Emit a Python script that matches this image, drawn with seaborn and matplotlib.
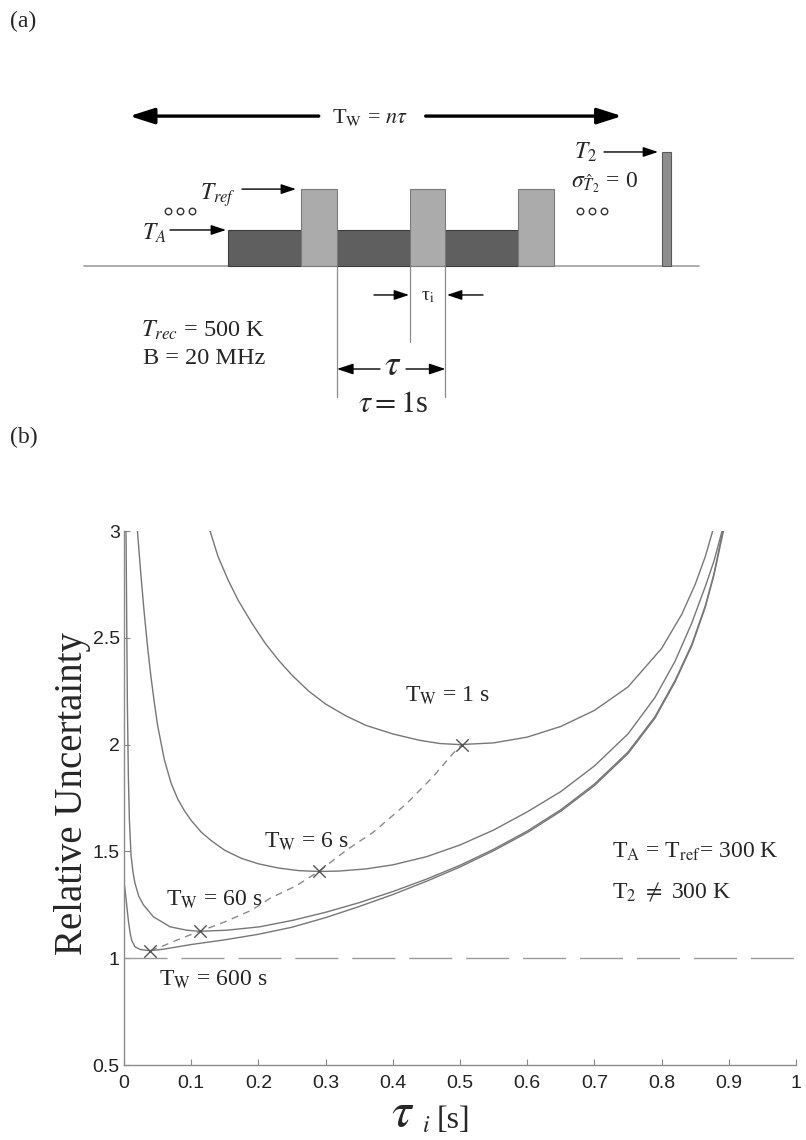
import numpy as np
import pandas as pd
import matplotlib
matplotlib.use("Agg")
import matplotlib.pyplot as plt
import seaborn as sns

# (b) curves, values
tw1_x = [0.128, 0.14, 0.155, 0.17, 0.19, 0.21, 0.23, 0.25, 0.275, 0.3, 0.33, 0.36, 0.4, 0.44,
         0.47, 0.5, 0.55, 0.6, 0.65, 0.7, 0.75, 0.8, 0.83, 0.85, 0.865, 0.876]
tw1_y = [3.0, 2.88, 2.77, 2.675, 2.57, 2.475, 2.395, 2.325, 2.25, 2.19, 2.135, 2.09, 2.05, 2.02,
         2.005, 2.0, 2.008, 2.035, 2.085, 2.16, 2.27, 2.45, 2.61, 2.75, 2.88, 3.0]

tw6_x = [0.02, 0.025, 0.03, 0.035, 0.04, 0.045, 0.05, 0.06, 0.07, 0.08, 0.09, 0.1, 0.115, 0.13,
         0.15, 0.175, 0.2, 0.23, 0.26, 0.29, 0.32, 0.36, 0.4, 0.45, 0.5, 0.55, 0.6, 0.65, 0.7,
         0.75, 0.79, 0.82, 0.845, 0.865, 0.878, 0.89]
tw6_y = [3.0, 2.8, 2.62, 2.46, 2.32, 2.2, 2.09, 1.93, 1.82, 1.745, 1.69, 1.645, 1.59, 1.55,
         1.505, 1.467, 1.442, 1.422, 1.41, 1.406, 1.408, 1.418, 1.437, 1.475, 1.53, 1.6, 1.685,
         1.78, 1.9, 2.05, 2.22, 2.39, 2.57, 2.74, 2.86, 3.0]

tw60_x = [0.003, 0.004, 0.005, 0.0065, 0.008, 0.0105, 0.0135, 0.0164, 0.022, 0.0288, 0.0437,
          0.0685, 0.0933, 0.113, 0.153, 0.202, 0.252, 0.3, 0.35, 0.4, 0.45, 0.5, 0.55, 0.6,
          0.65, 0.7, 0.75, 0.79, 0.82, 0.845, 0.865, 0.878, 0.891]
tw60_y = [3.0, 2.6, 2.2, 1.85, 1.65, 1.48, 1.4, 1.35, 1.29, 1.25, 1.194,
          1.147, 1.131, 1.126, 1.131, 1.147, 1.178, 1.215, 1.26, 1.312, 1.37, 1.435, 1.51, 1.595,
          1.695, 1.815, 1.965, 2.13, 2.3, 2.47, 2.65, 2.8, 3.0]

tw600_x = [0.0, 0.003, 0.0064, 0.009, 0.0114, 0.0164, 0.024, 0.0387, 0.0585, 0.1, 0.15, 0.2,
           0.25, 0.3, 0.35, 0.4, 0.45, 0.5, 0.55, 0.6, 0.65, 0.7, 0.75, 0.79, 0.82, 0.845,
           0.865, 0.878, 0.892]
tw600_y = [1.36, 1.28, 1.178, 1.12, 1.084, 1.053, 1.041, 1.035, 1.042, 1.064, 1.086, 1.112,
           1.145, 1.19, 1.242, 1.298, 1.36, 1.427, 1.503, 1.588, 1.688, 1.808, 1.958, 2.123,
           2.293, 2.463, 2.643, 2.795, 3.0]

# optimum points and the dashed path through them
min_x = [0.039, 0.113, 0.29, 0.503]
min_y = [1.035, 1.126, 1.407, 2.0]
path_x = [0.039, 0.06, 0.078, 0.095, 0.113, 0.15, 0.19, 0.217, 0.257, 0.29, 0.331, 0.371,
          0.421, 0.46, 0.49, 0.503]
path_y = [1.035, 1.06, 1.084, 1.105, 1.126, 1.17, 1.225, 1.28, 1.34, 1.407, 1.506, 1.59,
          1.725, 1.85, 1.96, 2.0]

xticks = [0, 0.1, 0.2, 0.3, 0.4, 0.5, 0.6, 0.7, 0.8, 0.9, 1]
xtick_labels = ["0", "0.1", "0.2", "0.3", "0.4", "0.5", "0.6", "0.7", "0.8", "0.9", "1"]
yticks = [0.5, 1, 1.5, 2, 2.5, 3]
ytick_labels = ["0.5", "1", "1.5", "2", "2.5", "3"]

# (a) schematic: x in units of tau, y in units of the T_A level
ta_start = [-1.0, 0.0, 1.0]
ta_width = 0.67
ta_level = 1.0
tref_start = [-0.33, 0.67, 1.67]
tref_width = 0.33
tref_level = 2.12
t2_start = 3.0
t2_width = 0.075
t2_level = 3.14

sns.set_style("ticks")
plt.rcParams['font.family'] = ['Liberation Serif', 'DejaVu Serif']
plt.rcParams['mathtext.fontset'] = 'stix'

fig = plt.figure(figsize=(8.06, 11.4), dpi=100)
W, H = 806.0, 1140.0
GRAY = '#777777'

# ---------------- panel (b) ----------------
ax = fig.add_axes([124 / W, 1 - 1065 / H, 672 / W, 534 / H])

curves = pd.concat([
    pd.DataFrame({'tau': tw1_x, 'u': tw1_y, 'Tw': '1 s'}),
    pd.DataFrame({'tau': tw6_x, 'u': tw6_y, 'Tw': '6 s'}),
    pd.DataFrame({'tau': tw60_x, 'u': tw60_y, 'Tw': '60 s'}),
    pd.DataFrame({'tau': tw600_x, 'u': tw600_y, 'Tw': '600 s'}),
])
sns.lineplot(data=curves, x='tau', y='u', units='Tw', estimator=None, sort=False,
             color=GRAY, lw=1.0, ax=ax)
sns.lineplot(x=path_x, y=path_y, sort=False, color='#8a8a8a', lw=1.0,
             linestyle=(0, (5, 4)), ax=ax)
sns.scatterplot(x=min_x, y=min_y, marker='x', s=80, color='#555555', linewidth=1.0,
                ax=ax, zorder=5)
ax.axhline(1, color='#9a9a9a', lw=1.0, dashes=(31, 10), zorder=1)

ax.set_xlim(0, 1)
ax.set_ylim(0.5, 3)
ax.set_xticks(xticks, labels=xtick_labels, fontfamily='Liberation Sans', fontsize=14)
ax.set_yticks(yticks, labels=ytick_labels, fontfamily='Liberation Sans', fontsize=14)
ax.tick_params(direction='in', length=4, width=0.8, color='#888888', labelcolor='#222222')
ax.tick_params(axis='x', pad=7)
ax.tick_params(axis='y', pad=3)
ax.set_xlabel('')
ax.set_ylabel('')
sns.despine(ax=ax)
for s in ['left', 'bottom']:
    ax.spines[s].set_color('#8c8c8c')
    ax.spines[s].set_linewidth(1.0)

ax.text(0.481, 2.227, r'T$_\mathrm{W}$ = 1 s', ha='center', va='center', fontsize=17)
ax.text(0.272, 1.543, r'T$_\mathrm{W}$ = 6 s', ha='center', va='center', fontsize=17)
ax.text(0.135, 1.272, r'T$_\mathrm{W}$ = 60 s', ha='center', va='center', fontsize=17)
ax.text(0.133, 0.898, r'T$_\mathrm{W}$ = 600 s', ha='center', va='center', fontsize=17)
ax.text(0.726, 1.496, r'T$_\mathrm{A}$ = T$_\mathrm{ref}$= 300 K', ha='left', va='center', fontsize=17)
ax.text(0.726, 1.309, r'T$_2$ $\neq$ 300 K', ha='left', va='center', fontsize=17)

fig.text(73 / W, 1 - 794 / H, 'Relative Uncertainty', rotation=90, ha='center',
         va='center', fontsize=28)
fig.text(403 / W, 1 - 1114 / H, r'$\tau$', ha='center', va='center', fontsize=36)
fig.text(426 / W, 1 - 1126 / H, r'$i$', ha='center', va='center', fontsize=17)
fig.text(453 / W, 1 - 1121 / H, '[s]', ha='center', va='center', fontsize=23)

# ---------------- panel (a) ----------------
ax2 = fig.add_axes([0, 1 - 420 / H, 1, 420 / H])
ax2.set_xlim(-3.106, 4.323)
ax2.set_ylim(-4.205, 7.30)
ax2.axis('off')

ax2.plot([-2.33, 3.34], [0, 0], color='#a0a0a0', lw=1.2, zorder=0)
ax2.bar(ta_start, [ta_level] * len(ta_start), width=ta_width, align='edge',
        color='#5f5f5f', edgecolor='#3c3c3c', lw=0.8, zorder=2)
ax2.bar(tref_start, [tref_level] * len(tref_start), width=tref_width, align='edge',
        color='#ababab', edgecolor='#7a7a7a', lw=0.8, zorder=3)
ax2.bar([t2_start], [t2_level], width=t2_width, align='edge',
        color='#8e8e8e', edgecolor='#5a5a5a', lw=0.8, zorder=3)

# guide lines under the middle period
for xv, ybot in [(ta_start[1], -3.575), (tref_start[1], -2.07), (ta_start[2], -3.575)]:
    ax2.plot([xv, xv], [0, ybot], color='#8c8c8c', lw=0.9, zorder=1)


def arrow(x0, y0, x1, y1, lw=1.0, ms=10, hl=0.9, hw=0.3):
    ax2.annotate('', xy=(x1, y1), xytext=(x0, y0),
                 arrowprops=dict(arrowstyle='-|>,head_length=%s,head_width=%s' % (hl, hw),
                                 lw=lw, color='black', shrinkA=0, shrinkB=0,
                                 mutation_scale=ms))


# T_W = n tau
arrow(-0.168, 4.12, -1.912, 4.12, lw=2.4, ms=20, hl=0.75, hw=0.24)
arrow(0.8175, 4.12, 2.627, 4.12, lw=2.4, ms=20, hl=0.75, hw=0.24)
ax2.text(0.304, 4.07, r'T$_\mathrm{W}$ = $n\tau$', ha='center', va='center', fontsize=16)

# T_2 / sigma
ax2.text(2.295, 3.137, r'$T_2$', ha='center', va='center', fontsize=17)
arrow(2.461, 3.137, 2.959, 3.137)
ax2.text(2.157, 2.29, r'$\sigma_{\hat{T}_2}$ = 0', ha='left', va='center', fontsize=17)

# T_ref / T_A
ax2.text(-1.097, 1.96, r'$T_{ref}$', ha='center', va='center', fontsize=17)
arrow(-0.876, tref_level, -0.378, tref_level)
ax2.text(-1.687, 0.918, r'$T_A$', ha='center', va='center', fontsize=17)
arrow(-1.539, ta_level, -1.023, ta_level)

# ellipsis circles
ax2.scatter([-1.558, -1.447, -1.336, 2.24, 2.35, 2.46], [1.52] * 6, s=22,
            facecolors='white', edgecolors='#333333', linewidths=1.0, zorder=4)

# tau_i
arrow(0.341, -0.78, 0.664, -0.78)
arrow(1.346, -0.78, 1.014, -0.78)
ax2.text(0.839, -0.81, r'τ$_\mathrm{i}$', ha='center', va='center', fontsize=14)

ax2.text(-1.806, -1.74, r'$T_{rec}$ = 500 K', ha='left', va='center', fontsize=17.5)
ax2.text(-1.788, -2.507, 'B = 20 MHz', ha='left', va='center', fontsize=17.5)

# tau
arrow(0.396, -2.808, 0.0, -2.808, ms=11)
arrow(0.636, -2.808, 1.0, -2.808, ms=11)
ax2.text(0.516, -2.75, r'$\tau$', ha='center', va='center', fontsize=26)
ax2.text(0.516, -3.767, r'$\tau = 1$s', ha='center', va='center', fontsize=22)

fig.text(10 / W, 1 - 21 / H, '(a)', ha='left', va='center', fontsize=17)
fig.text(10 / W, 1 - 437 / H, '(b)', ha='left', va='center', fontsize=17)

fig.savefig('out.png', dpi=100, facecolor='white')
